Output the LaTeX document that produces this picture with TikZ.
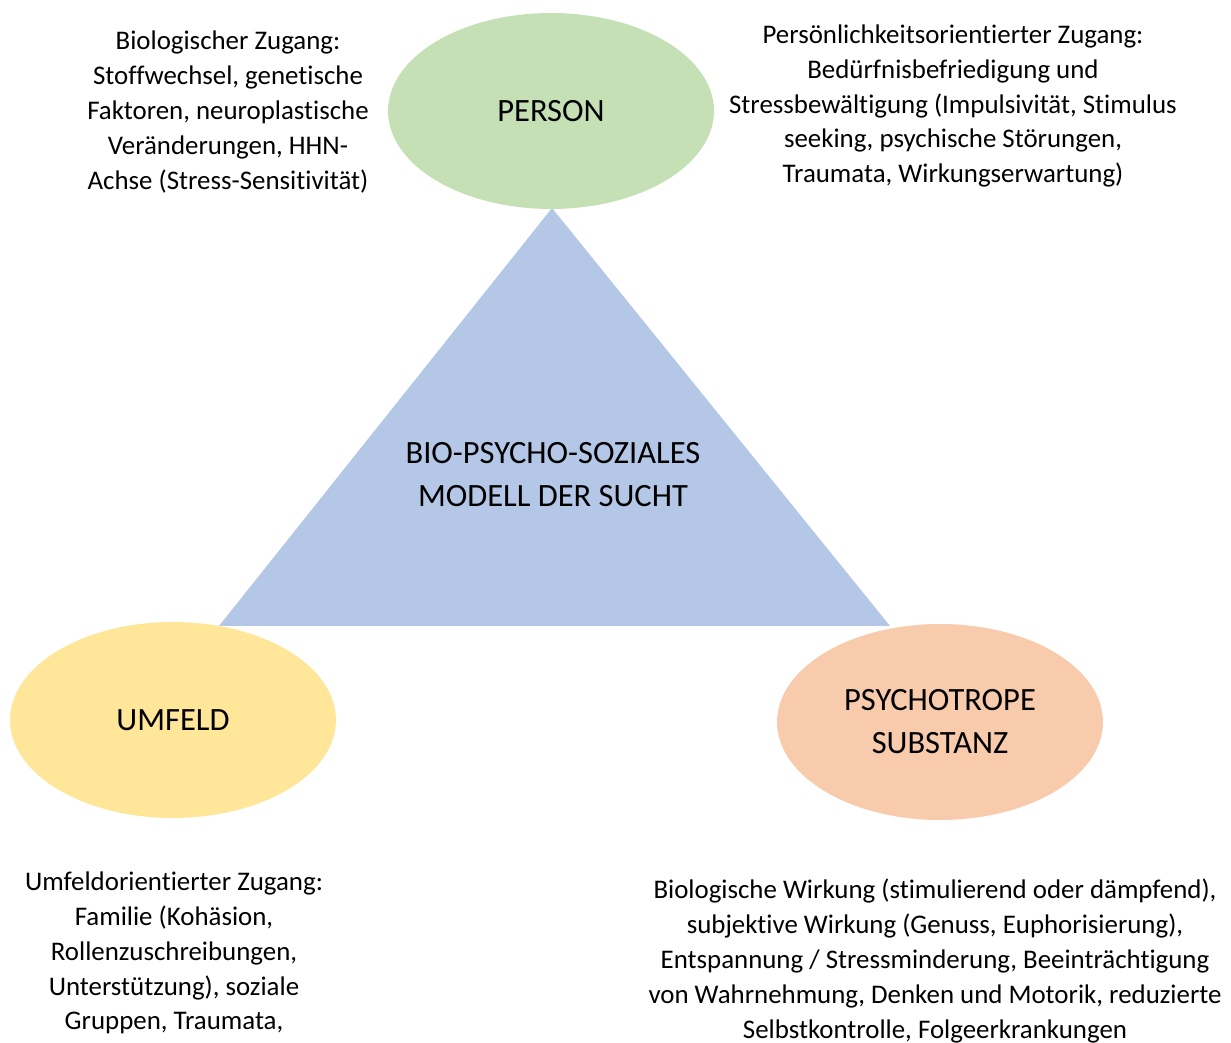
\documentclass[tikz,border=0pt]{standalone}
\usepackage{fontspec}
\setmainfont{Carlito}[Ligatures=NoCommon]
\usetikzlibrary{shapes.geometric}
\definecolor{modelfill}{HTML}{B4C7E7}
\definecolor{personfill}{HTML}{C5E0B4}
\definecolor{umfeldfill}{HTML}{FFE699}
\definecolor{substanzfill}{HTML}{F8CBAD}
\def\ovalwidth{6.52cm}
\def\ovalheight{3.92cm}

\begin{document}
\begin{tikzpicture}[x=0.02cm,y=-0.02cm]
    \tikzstyle{oval}=[ellipse,minimum width=\ovalwidth,minimum height=\ovalheight,inner sep=0pt,align=center,font=\fontsize{18.5}{24.4}\selectfont]
    \tikzstyle{person oval}=[oval,fill=personfill]
    \tikzstyle{umfeld oval}=[oval,fill=umfeldfill]
    \tikzstyle{substanz oval}=[oval,fill=substanzfill]
    \tikzstyle{model}=[align=center,font=\fontsize{18.5}{24.4}\selectfont]
    \tikzstyle{annot}=[align=center,font=\fontsize{15.3}{19.85}\selectfont]

    \useasboundingbox (0,0) rectangle (1231,1043);

    % Draw the triangle
    \coordinate (T-top) at (552,208);
    \coordinate (T-left) at (219,626);
    \coordinate (T-right) at (890,626);
    \fill[modelfill] (T-top) -- (T-left) -- (T-right) -- cycle;
    \node[model] (model) at (553,475) {BIO-PSYCHO-SOZIALES\\MODELL DER SUCHT};

    % Draw the three ovals
    \node[person oval] (person) at (551,111) {PERSON};
    \node[umfeld oval] (umfeld) at (173,720) {UMFELD};
    \node[substanz oval] (substanz) at (940,722) {PSYCHOTROPE\\SUBSTANZ};

    % Annotate the ovals
    \node[annot] (bio) at (228,112) {Biologischer Zugang:\\Stoffwechsel, genetische\\Faktoren, neuroplastische\\Veränderungen, HHN-\\Achse (Stress-Sensitivität)};
    \node[annot] (psycho) at (953,106) {Persönlichkeitsorientierter Zugang:\\Bedürfnisbefriedigung und\\Stressbewältigung (Impulsivität, Stimulus\\seeking, psychische Störungen,\\Traumata, Wirkungserwartung)};
    \node[annot] (sozial) at (174,953) {Umfeldorientierter Zugang:\\Familie (Kohäsion,\\Rollenzuschreibungen,\\Unterstützung), soziale\\Gruppen, Traumata,};
    \node[annot] (wirkung) at (935,961) {Biologische Wirkung (stimulierend oder dämpfend),\\subjektive Wirkung (Genuss, Euphorisierung),\\Entspannung / Stressminderung, Beeinträchtigung\\von Wahrnehmung, Denken und Motorik, reduzierte\\Selbstkontrolle, Folgeerkrankungen};
\end{tikzpicture}
\end{document}
